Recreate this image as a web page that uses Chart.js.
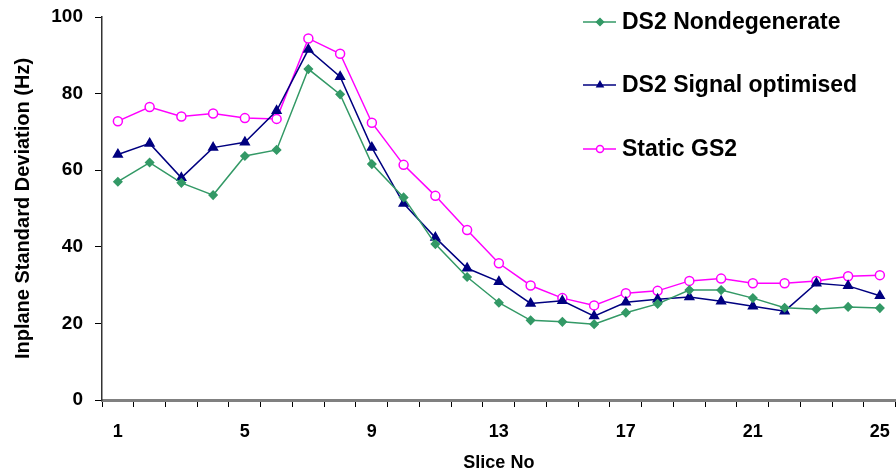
<!DOCTYPE html>
<html>
<head>
<meta charset="utf-8">
<script src="https://cdn.jsdelivr.net/npm/chart.js@4.4.1/dist/chart.umd.min.js"></script>
<style>
  html, body { margin: 0; padding: 0; background: #fff; overflow: hidden; }
  #wrap { width: 904px; height: 474px; }
</style>
</head>
<body>
<div id="wrap"><canvas id="sliceChart"></canvas></div>
<script>
// slice numbers 1..25
const slices = ['1','2','3','4','5','6','7','8','9','10','11','12','13','14','15','16','17','18','19','20','21','22','23','24','25'];

const ds2Nondegenerate = [57.0, 62.0, 56.7, 53.5, 63.7, 65.3, 86.4, 79.8, 61.6, 52.9, 40.7, 32.1, 25.4, 20.8, 20.4, 19.8, 22.8, 25.1, 28.7, 28.7, 26.6, 24.1, 23.7, 24.3, 24.0];
const ds2SignalOptimised = [64.1, 67.0, 58.0, 65.9, 67.3, 75.5, 91.5, 84.4, 65.9, 51.3, 42.4, 34.4, 30.9, 25.2, 25.9, 21.9, 25.5, 26.3, 26.9, 25.8, 24.5, 23.2, 30.5, 29.8, 27.2];
const staticGS2 = [72.8, 76.5, 74.0, 74.8, 73.6, 73.4, 94.4, 90.4, 72.4, 61.4, 53.3, 44.4, 35.7, 29.9, 26.6, 24.7, 27.9, 28.5, 31.1, 31.7, 30.5, 30.5, 31.1, 32.3, 32.6];

const yTicks = [0, 20, 40, 60, 80, 100];

const FONT = 'Liberation Sans, Arial, sans-serif';

// legend drawn inside the plot, top right
const insideLegend = {
  id: 'insideLegend',
  afterDraw(chart) {
    const ctx = chart.ctx;
    const rows = [22, 85, 149];
    ctx.save();
    chart.data.datasets.forEach((ds, i) => {
      const y = rows[i];
      ctx.strokeStyle = ds.borderColor;
      ctx.lineWidth = 1.5;
      ctx.beginPath();
      ctx.moveTo(583, y);
      ctx.lineTo(616, y);
      ctx.stroke();
      ctx.fillStyle = ds.pointBackgroundColor;
      ctx.strokeStyle = ds.pointBorderColor;
      Chart.helpers.drawPoint(ctx, { pointStyle: ds.pointStyle, radius: 3.5, rotation: 0, borderWidth: 1.2 }, 600, y);
      ctx.fillStyle = '#000';
      ctx.font = 'bold 23px ' + FONT;
      ctx.textBaseline = 'middle';
      ctx.textAlign = 'left';
      ctx.fillText(ds.label, 622, y + 1);
    });
    ctx.restore();
  }
};

new Chart(document.getElementById('sliceChart'), {
  type: 'line',
  data: {
    labels: slices,
    datasets: [
      {
        label: 'DS2 Nondegenerate',
        data: ds2Nondegenerate,
        borderColor: '#339966',
        backgroundColor: '#339966',
        pointBackgroundColor: '#339966',
        pointBorderColor: '#339966',
        pointStyle: 'rectRot',
        pointRadius: 4,
        borderWidth: 1.5,
        tension: 0
      },
      {
        label: 'DS2 Signal optimised',
        data: ds2SignalOptimised,
        borderColor: '#000080',
        backgroundColor: '#000080',
        pointBackgroundColor: '#000080',
        pointBorderColor: '#000080',
        pointStyle: 'triangle',
        pointRadius: 5,
        borderWidth: 1.5,
        tension: 0
      },
      {
        label: 'Static GS2',
        data: staticGS2,
        borderColor: '#ff00ff',
        backgroundColor: '#ffffff',
        pointBackgroundColor: '#ffffff',
        pointBorderColor: '#ff00ff',
        pointStyle: 'circle',
        pointRadius: 4.5,
        pointBorderWidth: 1.5,
        borderWidth: 1.5,
        tension: 0
      }
    ]
  },
  options: {
    responsive: true,
    maintainAspectRatio: false,
    animation: false,
    layout: { padding: { top: 17, right: 2, left: 0, bottom: 0 } },
    scales: {
      x: {
        type: 'category',
        offset: true,
        grid: {
          offset: true,
          drawOnChartArea: false,
          drawTicks: true,
          tickLength: 7,
          color: '#000',
          lineWidth: 1
        },
        border: { color: '#808080', width: 3 },
        ticks: {
          autoSkip: false,
          maxRotation: 0,
          padding: 14,
          color: '#000',
          font: { family: FONT, size: 18, weight: 'bold' },
          callback: function (val, idx) { return idx % 4 === 0 ? slices[idx] : ''; }
        },
        title: {
          display: true,
          text: 'Slice No',
          color: '#000',
          font: { family: FONT, size: 18, weight: 'bold' },
          padding: { top: 4, bottom: 0 }
        },
        afterFit(scale) { scale.height = 74; }
      },
      y: {
        min: 0,
        max: 100,
        afterBuildTicks(scale) { scale.ticks = yTicks.map(v => ({ value: v })); },
        grid: {
          drawOnChartArea: false,
          drawTicks: true,
          tickLength: 7,
          color: '#000'
        },
        border: { color: '#333', width: 1.5 },
        ticks: {
          padding: 12,
          color: '#000',
          font: { family: FONT, size: 19, weight: 'bold' }
        },
        title: {
          display: true,
          text: 'Inplane Standard Deviation (Hz)',
          color: '#000',
          font: { family: FONT, size: 20, weight: 'bold' },
          padding: { top: 11, bottom: 0 }
        },
        afterFit(scale) {
          scale.width = 102;
          // the plot top is set by layout padding alone
          scale.paddingTop = 0;
          scale.paddingBottom = 0;
        }
      }
    },
    plugins: {
      legend: { display: false },
      tooltip: { enabled: false }
    }
  },
  plugins: [insideLegend]
});
</script>
</body>
</html>
